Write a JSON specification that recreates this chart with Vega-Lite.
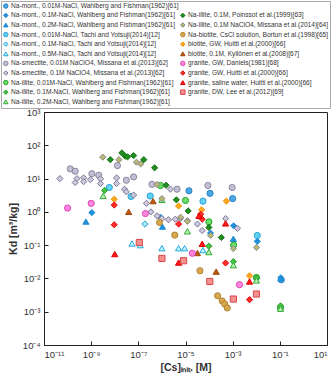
{
  "$schema": "https://vega.github.io/schema/vega-lite/v6.json",
  "autosize": "none",
  "width": 283,
  "height": 233,
  "padding": {"left": 44, "top": 112, "right": 7, "bottom": 39},
  "background": "white",
  "data": {
    "values": [
      {"series": "Na-mont., 0.01M-NaCl, Wahlberg and Fishman(1962)[61]", "cs": 1.4e-5, "kd": 4.3},
      {"series": "Na-mont., 0.01M-NaCl, Wahlberg and Fishman(1962)[61]", "cs": 1.1e-4, "kd": 3.6},
      {"series": "Na-mont., 0.01M-NaCl, Wahlberg and Fishman(1962)[61]", "cs": 1.0e-3, "kd": 2.5},
      {"series": "Na-mont., 0.01M-NaCl, Wahlberg and Fishman(1962)[61]", "cs": 0.115, "kd": 0.0091},

      {"series": "Na-mont., 0.1M-NaCl, Wahlberg and Fishman(1962)[61]", "cs": 1.07e-9, "kd": 0.95},
      {"series": "Na-mont., 0.1M-NaCl, Wahlberg and Fishman(1962)[61]", "cs": 8.7e-7, "kd": 0.69},
      {"series": "Na-mont., 0.1M-NaCl, Wahlberg and Fishman(1962)[61]", "cs": 1.15e-4, "kd": 0.23},
      {"series": "Na-mont., 0.1M-NaCl, Wahlberg and Fishman(1962)[61]", "cs": 1.1e-3, "kd": 0.38},
      {"series": "Na-mont., 0.1M-NaCl, Wahlberg and Fishman(1962)[61]", "cs": 0.011, "kd": 0.13},
      {"series": "Na-mont., 0.1M-NaCl, Wahlberg and Fishman(1962)[61]", "cs": 0.11, "kd": 0.0105},

      {"series": "Na-mont., 0.2M-NaCl, Wahlberg and Fishman(1962)[61]", "cs": 6.0e-10, "kd": 0.51},
      {"series": "Na-mont., 0.2M-NaCl, Wahlberg and Fishman(1962)[61]", "cs": 1.05e-6, "kd": 0.36},
      {"series": "Na-mont., 0.2M-NaCl, Wahlberg and Fishman(1962)[61]", "cs": 1.07e-3, "kd": 0.155},
      {"series": "Na-mont., 0.2M-NaCl, Wahlberg and Fishman(1962)[61]", "cs": 0.11, "kd": 0.010},

      {"series": "Na-mont., 0.01M-NaCl, Tachi and Yotsuji(2014)[12]", "cs": 5.9e-9, "kd": 5.4},
      {"series": "Na-mont., 0.01M-NaCl, Tachi and Yotsuji(2014)[12]", "cs": 4.9e-8, "kd": 2.9},
      {"series": "Na-mont., 0.01M-NaCl, Tachi and Yotsuji(2014)[12]", "cs": 3.2e-7, "kd": 3.0},
      {"series": "Na-mont., 0.01M-NaCl, Tachi and Yotsuji(2014)[12]", "cs": 5.5e-5, "kd": 2.1},
      {"series": "Na-mont., 0.01M-NaCl, Tachi and Yotsuji(2014)[12]", "cs": 0.011, "kd": 0.195},

      {"series": "Na-mont., 0.1M-NaCl, Tachi and Yotsuji(2014)[12]", "cs": 1.9e-7, "kd": 0.43},

      {"series": "Na-mont., 0.5M-NaCl, Tachi and Yotsuji(2014)[12]", "cs": 5.4e-8, "kd": 0.112},
      {"series": "Na-mont., 0.5M-NaCl, Tachi and Yotsuji(2014)[12]", "cs": 1.2e-7, "kd": 0.10},
      {"series": "Na-mont., 0.5M-NaCl, Tachi and Yotsuji(2014)[12]", "cs": 1.0e-6, "kd": 0.081},
      {"series": "Na-mont., 0.5M-NaCl, Tachi and Yotsuji(2014)[12]", "cs": 5.1e-6, "kd": 0.081},
      {"series": "Na-mont., 0.5M-NaCl, Tachi and Yotsuji(2014)[12]", "cs": 9.1e-6, "kd": 0.081},
      {"series": "Na-mont., 0.5M-NaCl, Tachi and Yotsuji(2014)[12]", "cs": 5.5e-5, "kd": 0.071},

      {"series": "Na-smectite, 0.01M NaClO4, Missana et al.(2013)[62]", "cs": 1.3e-10, "kd": 19.5},
      {"series": "Na-smectite, 0.01M NaClO4, Missana et al.(2013)[62]", "cs": 2.1e-10, "kd": 16.6},
      {"series": "Na-smectite, 0.01M NaClO4, Missana et al.(2013)[62]", "cs": 1.07e-9, "kd": 14},
      {"series": "Na-smectite, 0.01M NaClO4, Missana et al.(2013)[62]", "cs": 2.1e-9, "kd": 12.6},
      {"series": "Na-smectite, 0.01M NaClO4, Missana et al.(2013)[62]", "cs": 1.3e-8, "kd": 24.5},
      {"series": "Na-smectite, 0.01M NaClO4, Missana et al.(2013)[62]", "cs": 3.1e-8, "kd": 8.9},
      {"series": "Na-smectite, 0.01M NaClO4, Missana et al.(2013)[62]", "cs": 6.3e-8, "kd": 11.2},
      {"series": "Na-smectite, 0.01M NaClO4, Missana et al.(2013)[62]", "cs": 3.8e-7, "kd": 6.7},
      {"series": "Na-smectite, 0.01M NaClO4, Missana et al.(2013)[62]", "cs": 4.4e-6, "kd": 4.8},
      {"series": "Na-smectite, 0.01M NaClO4, Missana et al.(2013)[62]", "cs": 8.9e-5, "kd": 6.2},
      {"series": "Na-smectite, 0.01M NaClO4, Missana et al.(2013)[62]", "cs": 9.5e-4, "kd": 5.4},

      {"series": "Na-smectite, 0.1M NaClO4, Missana et al.(2013)[62]", "cs": 4.7e-11, "kd": 10},
      {"series": "Na-smectite, 0.1M NaClO4, Missana et al.(2013)[62]", "cs": 2.1e-10, "kd": 7.6},
      {"series": "Na-smectite, 0.1M NaClO4, Missana et al.(2013)[62]", "cs": 2.5e-10, "kd": 10},
      {"series": "Na-smectite, 0.1M NaClO4, Missana et al.(2013)[62]", "cs": 4.8e-10, "kd": 10.5},
      {"series": "Na-smectite, 0.1M NaClO4, Missana et al.(2013)[62]", "cs": 4.8e-10, "kd": 8.1},
      {"series": "Na-smectite, 0.1M NaClO4, Missana et al.(2013)[62]", "cs": 9.3e-10, "kd": 9.3},
      {"series": "Na-smectite, 0.1M NaClO4, Missana et al.(2013)[62]", "cs": 2.5e-9, "kd": 9.8},
      {"series": "Na-smectite, 0.1M NaClO4, Missana et al.(2013)[62]", "cs": 2.5e-9, "kd": 7.1},
      {"series": "Na-smectite, 0.1M NaClO4, Missana et al.(2013)[62]", "cs": 1.2e-8, "kd": 10.5},
      {"series": "Na-smectite, 0.1M NaClO4, Missana et al.(2013)[62]", "cs": 1.2e-8, "kd": 7.1},
      {"series": "Na-smectite, 0.1M NaClO4, Missana et al.(2013)[62]", "cs": 2.6e-8, "kd": 4.8},
      {"series": "Na-smectite, 0.1M NaClO4, Missana et al.(2013)[62]", "cs": 3.1e-8, "kd": 4.0},
      {"series": "Na-smectite, 0.1M NaClO4, Missana et al.(2013)[62]", "cs": 6.3e-8, "kd": 3.2},
      {"series": "Na-smectite, 0.1M NaClO4, Missana et al.(2013)[62]", "cs": 2.2e-7, "kd": 1.8},
      {"series": "Na-smectite, 0.1M NaClO4, Missana et al.(2013)[62]", "cs": 3.4e-7, "kd": 1.0},
      {"series": "Na-smectite, 0.1M NaClO4, Missana et al.(2013)[62]", "cs": 6.2e-7, "kd": 0.76},
      {"series": "Na-smectite, 0.1M NaClO4, Missana et al.(2013)[62]", "cs": 1.0e-6, "kd": 0.63},
      {"series": "Na-smectite, 0.1M NaClO4, Missana et al.(2013)[62]", "cs": 1.9e-6, "kd": 0.58},
      {"series": "Na-smectite, 0.1M NaClO4, Missana et al.(2013)[62]", "cs": 2.3e-6, "kd": 4.8},
      {"series": "Na-smectite, 0.1M NaClO4, Missana et al.(2013)[62]", "cs": 3.7e-6, "kd": 0.60},
      {"series": "Na-smectite, 0.1M NaClO4, Missana et al.(2013)[62]", "cs": 6.0e-6, "kd": 0.63},
      {"series": "Na-smectite, 0.1M NaClO4, Missana et al.(2013)[62]", "cs": 1.2e-5, "kd": 0.54},
      {"series": "Na-smectite, 0.1M NaClO4, Missana et al.(2013)[62]", "cs": 3.2e-5, "kd": 0.43},
      {"series": "Na-smectite, 0.1M NaClO4, Missana et al.(2013)[62]", "cs": 5.1e-5, "kd": 0.275},
      {"series": "Na-smectite, 0.1M NaClO4, Missana et al.(2013)[62]", "cs": 5.0e-4, "kd": 0.63},
      {"series": "Na-smectite, 0.1M NaClO4, Missana et al.(2013)[62]", "cs": 1.6e-3, "kd": 0.32},

      {"series": "Na-illite, 0.01M-NaCl, Wahlberg and Fishman(1962)[61]", "cs": 8.7e-7, "kd": 6.2},
      {"series": "Na-illite, 0.01M-NaCl, Wahlberg and Fishman(1962)[61]", "cs": 1.0e-5, "kd": 2.2},
      {"series": "Na-illite, 0.01M-NaCl, Wahlberg and Fishman(1962)[61]", "cs": 9.8e-5, "kd": 0.50},
      {"series": "Na-illite, 0.01M-NaCl, Wahlberg and Fishman(1962)[61]", "cs": 1.1e-3, "kd": 0.10},
      {"series": "Na-illite, 0.01M-NaCl, Wahlberg and Fishman(1962)[61]", "cs": 0.0102, "kd": 0.0107},
      {"series": "Na-illite, 0.01M-NaCl, Wahlberg and Fishman(1962)[61]", "cs": 0.107, "kd": 0.0013},

      {"series": "Na-illite, 0.1M-NaCl, Wahlberg and Fishman(1962)[61]", "cs": 3.7e-9, "kd": 4.4},
      {"series": "Na-illite, 0.1M-NaCl, Wahlberg and Fishman(1962)[61]", "cs": 9.8e-5, "kd": 0.093},
      {"series": "Na-illite, 0.1M-NaCl, Wahlberg and Fishman(1962)[61]", "cs": 1.07e-3, "kd": 0.032},
      {"series": "Na-illite, 0.1M-NaCl, Wahlberg and Fishman(1962)[61]", "cs": 0.0102, "kd": 0.0102},
      {"series": "Na-illite, 0.1M-NaCl, Wahlberg and Fishman(1962)[61]", "cs": 0.107, "kd": 0.0015},

      {"series": "Na-illite, 0.2M-NaCl, Wahlberg and Fishman(1962)[61]", "cs": 3.2e-9, "kd": 3.0},
      {"series": "Na-illite, 0.2M-NaCl, Wahlberg and Fishman(1962)[61]", "cs": 1.0e-6, "kd": 2.3},
      {"series": "Na-illite, 0.2M-NaCl, Wahlberg and Fishman(1962)[61]", "cs": 1.2e-5, "kd": 0.26},
      {"series": "Na-illite, 0.2M-NaCl, Wahlberg and Fishman(1962)[61]", "cs": 9.8e-5, "kd": 0.062},
      {"series": "Na-illite, 0.2M-NaCl, Wahlberg and Fishman(1962)[61]", "cs": 1.07e-3, "kd": 0.025},
      {"series": "Na-illite, 0.2M-NaCl, Wahlberg and Fishman(1962)[61]", "cs": 0.0102, "kd": 0.0087},
      {"series": "Na-illite, 0.2M-NaCl, Wahlberg and Fishman(1962)[61]", "cs": 0.107, "kd": 0.00123},

      {"series": "Na-illite, 0.1M, Poinssot et al.(1999)[63]", "cs": 6.5e-9, "kd": 37},
      {"series": "Na-illite, 0.1M, Poinssot et al.(1999)[63]", "cs": 2.0e-8, "kd": 59},
      {"series": "Na-illite, 0.1M, Poinssot et al.(1999)[63]", "cs": 2.8e-8, "kd": 47},
      {"series": "Na-illite, 0.1M, Poinssot et al.(1999)[63]", "cs": 3.5e-8, "kd": 45},
      {"series": "Na-illite, 0.1M, Poinssot et al.(1999)[63]", "cs": 6.3e-8, "kd": 49},
      {"series": "Na-illite, 0.1M, Poinssot et al.(1999)[63]", "cs": 1.7e-7, "kd": 37},
      {"series": "Na-illite, 0.1M, Poinssot et al.(1999)[63]", "cs": 4.9e-7, "kd": 21},
      {"series": "Na-illite, 0.1M, Poinssot et al.(1999)[63]", "cs": 1.5e-6, "kd": 6.3},
      {"series": "Na-illite, 0.1M, Poinssot et al.(1999)[63]", "cs": 4.1e-6, "kd": 2.3},
      {"series": "Na-illite, 0.1M, Poinssot et al.(1999)[63]", "cs": 1.3e-5, "kd": 1.07},
      {"series": "Na-illite, 0.1M, Poinssot et al.(1999)[63]", "cs": 9.8e-5, "kd": 0.34},
      {"series": "Na-illite, 0.1M, Poinssot et al.(1999)[63]", "cs": 3.3e-4, "kd": 0.17},

      {"series": "Na-illite, 0.1M NaClO4, Missana et al.(2014)[64]", "cs": 3.1e-9, "kd": 44},
      {"series": "Na-illite, 0.1M NaClO4, Missana et al.(2014)[64]", "cs": 1.5e-8, "kd": 37},
      {"series": "Na-illite, 0.1M NaClO4, Missana et al.(2014)[64]", "cs": 8.3e-8, "kd": 31},
      {"series": "Na-illite, 0.1M NaClO4, Missana et al.(2014)[64]", "cs": 1.26e-7, "kd": 27.5},
      {"series": "Na-illite, 0.1M NaClO4, Missana et al.(2014)[64]", "cs": 6.2e-7, "kd": 6.6},
      {"series": "Na-illite, 0.1M NaClO4, Missana et al.(2014)[64]", "cs": 1.0e-6, "kd": 2.5},
      {"series": "Na-illite, 0.1M NaClO4, Missana et al.(2014)[64]", "cs": 6.2e-6, "kd": 0.69},
      {"series": "Na-illite, 0.1M NaClO4, Missana et al.(2014)[64]", "cs": 1.2e-5, "kd": 0.52},
      {"series": "Na-illite, 0.1M NaClO4, Missana et al.(2014)[64]", "cs": 1.15e-4, "kd": 0.195},
      {"series": "Na-illite, 0.1M NaClO4, Missana et al.(2014)[64]", "cs": 1.07e-3, "kd": 0.079},
      {"series": "Na-illite, 0.1M NaClO4, Missana et al.(2014)[64]", "cs": 0.0102, "kd": 0.085},

      {"series": "Na-biotite, CsCl solution, Bortun et al.(1998)[65]", "cs": 7.9e-7, "kd": 0.48},
      {"series": "Na-biotite, CsCl solution, Bortun et al.(1998)[65]", "cs": 3.5e-6, "kd": 0.20},
      {"series": "Na-biotite, CsCl solution, Bortun et al.(1998)[65]", "cs": 4.1e-5, "kd": 0.017},
      {"series": "Na-biotite, CsCl solution, Bortun et al.(1998)[65]", "cs": 2.3e-4, "kd": 0.0030},
      {"series": "Na-biotite, CsCl solution, Bortun et al.(1998)[65]", "cs": 3.6e-4, "kd": 0.0021},
      {"series": "Na-biotite, CsCl solution, Bortun et al.(1998)[65]", "cs": 4.6e-4, "kd": 0.0017},
      {"series": "Na-biotite, CsCl solution, Bortun et al.(1998)[65]", "cs": 5.9e-4, "kd": 0.0013},

      {"series": "biotite, GW, Huitti et al.(2000)[66]", "cs": 9.5e-9, "kd": 2.4},
      {"series": "biotite, GW, Huitti et al.(2000)[66]", "cs": 5.1e-6, "kd": 1.5},
      {"series": "biotite, GW, Huitti et al.(2000)[66]", "cs": 4.8e-5, "kd": 1.15},
      {"series": "biotite, GW, Huitti et al.(2000)[66]", "cs": 5.4e-4, "kd": 2.1},
      {"series": "biotite, GW, Huitti et al.(2000)[66]", "cs": 5.2e-3, "kd": 0.012},

      {"series": "biotite, 0.1M, Kyllönen et al.(2008)[67]", "cs": 3.9e-8, "kd": 1.0},
      {"series": "biotite, 0.1M, Kyllönen et al.(2008)[67]", "cs": 4.2e-7, "kd": 2.1},
      {"series": "biotite, 0.1M, Kyllönen et al.(2008)[67]", "cs": 3.2e-5, "kd": 0.058},
      {"series": "biotite, 0.1M, Kyllönen et al.(2008)[67]", "cs": 2.0e-4, "kd": 0.016},

      {"series": "granite, GW, Daniels(1981)[68]", "cs": 1.0e-10, "kd": 1.3},
      {"series": "granite, GW, Daniels(1981)[68]", "cs": 1.0e-9, "kd": 1.8},
      {"series": "granite, GW, Daniels(1981)[68]", "cs": 2.0e-7, "kd": 0.89},
      {"series": "granite, GW, Daniels(1981)[68]", "cs": 1.95e-5, "kd": 0.057},
      {"series": "granite, GW, Daniels(1981)[68]", "cs": 1.95e-3, "kd": 0.0065},

      {"series": "granite, GW, Huitti et al.(2000)[66]", "cs": 9.5e-9, "kd": 1.6},
      {"series": "granite, GW, Huitti et al.(2000)[66]", "cs": 9.5e-9, "kd": 0.41},
      {"series": "granite, GW, Huitti et al.(2000)[66]", "cs": 5.1e-6, "kd": 0.43},
      {"series": "granite, GW, Huitti et al.(2000)[66]", "cs": 4.4e-5, "kd": 0.85},
      {"series": "granite, GW, Huitti et al.(2000)[66]", "cs": 5.1e-5, "kd": 0.60},
      {"series": "granite, GW, Huitti et al.(2000)[66]", "cs": 5.0e-4, "kd": 0.029},
      {"series": "granite, GW, Huitti et al.(2000)[66]", "cs": 5.2e-3, "kd": 0.0023},

      {"series": "granite, saline water, Huitti et al.(2000)[66]", "cs": 1.0e-8, "kd": 0.054},
      {"series": "granite, saline water, Huitti et al.(2000)[66]", "cs": 5.1e-6, "kd": 0.030},
      {"series": "granite, saline water, Huitti et al.(2000)[66]", "cs": 3.7e-5, "kd": 0.76},
      {"series": "granite, saline water, Huitti et al.(2000)[66]", "cs": 5.1e-5, "kd": 0.11},
      {"series": "granite, saline water, Huitti et al.(2000)[66]", "cs": 5.0e-4, "kd": 0.45},
      {"series": "granite, saline water, Huitti et al.(2000)[66]", "cs": 5.2e-3, "kd": 0.0081},

      {"series": "granite, DW, Lee et al.(2012)[69]", "cs": 1.1e-7, "kd": 0.12},
      {"series": "granite, DW, Lee et al.(2012)[69]", "cs": 1.0e-6, "kd": 0.040},
      {"series": "granite, DW, Lee et al.(2012)[69]", "cs": 8.3e-6, "kd": 0.034},
      {"series": "granite, DW, Lee et al.(2012)[69]", "cs": 1.07e-4, "kd": 0.0081},
      {"series": "granite, DW, Lee et al.(2012)[69]", "cs": 1.07e-3, "kd": 0.0024},
      {"series": "granite, DW, Lee et al.(2012)[69]", "cs": 0.0102, "kd": 0.0034}
    ]
  },
  "mark": {"type": "point", "filled": true, "opacity": 1, "strokeWidth": 1, "size": 38},
  "encoding": {
    "x": {
      "field": "cs", "type": "quantitative",
      "scale": {"type": "log", "domain": [1e-11, 10], "nice": false},
      "axis": {
        "title": "[Cs]ᵢₙᵢₜ. [M]",
        "values": [1e-11, 1e-9, 1e-7, 1e-5, 1e-3, 1e-1, 10],
        "labelExpr": "'10' + ['⁻¹¹','⁻¹⁰','⁻⁹','⁻⁸','⁻⁷','⁻⁶','⁻⁵','⁻⁴','⁻³','⁻²','⁻¹','⁰','¹','²','³'][round(log(datum.value)/LN10) + 11]",
        "labelPadding": 8,
        "titlePadding": 4
      }
    },
    "y": {
      "field": "kd", "type": "quantitative",
      "scale": {"type": "log", "domain": [1e-4, 1000], "nice": false},
      "axis": {
        "title": "Kd [m³/kg]",
        "values": [1e-4, 1e-3, 1e-2, 1e-1, 1, 10, 100, 1000],
        "labelExpr": "'10' + ['⁻¹¹','⁻¹⁰','⁻⁹','⁻⁸','⁻⁷','⁻⁶','⁻⁵','⁻⁴','⁻³','⁻²','⁻¹','⁰','¹','²','³'][round(log(datum.value)/LN10) + 11]",
        "labelPadding": 8,
        "titlePadding": 4
      }
    },
    "color": {
      "field": "series", "type": "nominal",
      "scale": {
        "domain": [
          "Na-mont., 0.01M-NaCl, Wahlberg and Fishman(1962)[61]",
          "Na-mont., 0.1M-NaCl, Wahlberg and Fishman(1962)[61]",
          "Na-mont., 0.2M-NaCl, Wahlberg and Fishman(1962)[61]",
          "Na-mont., 0.01M-NaCl, Tachi and Yotsuji(2014)[12]",
          "Na-mont., 0.1M-NaCl, Tachi and Yotsuji(2014)[12]",
          "Na-mont., 0.5M-NaCl, Tachi and Yotsuji(2014)[12]",
          "Na-smectite, 0.01M NaClO4, Missana et al.(2013)[62]",
          "Na-smectite, 0.1M NaClO4, Missana et al.(2013)[62]",
          "Na-illite, 0.01M-NaCl, Wahlberg and Fishman(1962)[61]",
          "Na-illite, 0.1M-NaCl, Wahlberg and Fishman(1962)[61]",
          "Na-illite, 0.2M-NaCl, Wahlberg and Fishman(1962)[61]",
          " ",
          "Na-illite, 0.1M, Poinssot et al.(1999)[63]",
          "Na-illite, 0.1M NaClO4, Missana et al.(2014)[64]",
          "Na-biotite, CsCl solution, Bortun et al.(1998)[65]",
          "biotite, GW, Huitti et al.(2000)[66]",
          "biotite, 0.1M, Kyllönen et al.(2008)[67]",
          "granite, GW, Daniels(1981)[68]",
          "granite, GW, Huitti et al.(2000)[66]",
          "granite, saline water, Huitti et al.(2000)[66]",
          "granite, DW, Lee et al.(2012)[69]"
        ],
        "range": [
          "#4aa8e6", "#1f8fd8", "#1f8fd8", "#5fd4f2", "#a8ecfa", "#c8f4fd",
          "#c4c0d4", "#cdc8dc", "#66e066", "#44c544", "#b6f0b0",
          "transparent",
          "#1f8f1f", "#b8b874", "#d8a850", "#ffa820", "#b85a10",
          "#ff88dd", "#ff2a2a", "#ff1a1a", "#f49090"
        ]
      },
      "legend": {
        "title": null,
        "orient": "none",
        "legendX": -43,
        "legendY": -111,
        "columns": 2,
        "columnPadding": -1,
        "rowPadding": 0.6,
        "padding": 1.5,
        "labelFont": "Liberation Sans",
        "labelFontSize": 6.6,
        "labelColor": "#333",
        "labelLimit": 400,
        "labelOffset": 2,
        "symbolSize": 20,
        "symbolStrokeWidth": 1,
        "strokeColor": "#aaaaaa",
        "fillColor": "white"
      }
    },
    "stroke": {
      "field": "series", "type": "nominal",
      "scale": {
        "domain": [
          "Na-mont., 0.01M-NaCl, Wahlberg and Fishman(1962)[61]",
          "Na-mont., 0.1M-NaCl, Wahlberg and Fishman(1962)[61]",
          "Na-mont., 0.2M-NaCl, Wahlberg and Fishman(1962)[61]",
          "Na-mont., 0.01M-NaCl, Tachi and Yotsuji(2014)[12]",
          "Na-mont., 0.1M-NaCl, Tachi and Yotsuji(2014)[12]",
          "Na-mont., 0.5M-NaCl, Tachi and Yotsuji(2014)[12]",
          "Na-smectite, 0.01M NaClO4, Missana et al.(2013)[62]",
          "Na-smectite, 0.1M NaClO4, Missana et al.(2013)[62]",
          "Na-illite, 0.01M-NaCl, Wahlberg and Fishman(1962)[61]",
          "Na-illite, 0.1M-NaCl, Wahlberg and Fishman(1962)[61]",
          "Na-illite, 0.2M-NaCl, Wahlberg and Fishman(1962)[61]",
          " ",
          "Na-illite, 0.1M, Poinssot et al.(1999)[63]",
          "Na-illite, 0.1M NaClO4, Missana et al.(2014)[64]",
          "Na-biotite, CsCl solution, Bortun et al.(1998)[65]",
          "biotite, GW, Huitti et al.(2000)[66]",
          "biotite, 0.1M, Kyllönen et al.(2008)[67]",
          "granite, GW, Daniels(1981)[68]",
          "granite, GW, Huitti et al.(2000)[66]",
          "granite, saline water, Huitti et al.(2000)[66]",
          "granite, DW, Lee et al.(2012)[69]"
        ],
        "range": [
          "#2a7fc0", "#1f8fd8", "#1f8fd8", "#2e9fd6", "#22a0d8", "#22a8dc",
          "#8a86a0", "#7c7898", "#2aa02a", "#2a9a2a", "#33aa33",
          "transparent",
          "#177017", "#8a8a8a", "#b0842f", "#f09000", "#a04808",
          "#e040b8", "#e01010", "#e00000", "#d84848"
        ]
      }
    },
    "shape": {
      "field": "series", "type": "nominal",
      "scale": {
        "domain": [
          "Na-mont., 0.01M-NaCl, Wahlberg and Fishman(1962)[61]",
          "Na-mont., 0.1M-NaCl, Wahlberg and Fishman(1962)[61]",
          "Na-mont., 0.2M-NaCl, Wahlberg and Fishman(1962)[61]",
          "Na-mont., 0.01M-NaCl, Tachi and Yotsuji(2014)[12]",
          "Na-mont., 0.1M-NaCl, Tachi and Yotsuji(2014)[12]",
          "Na-mont., 0.5M-NaCl, Tachi and Yotsuji(2014)[12]",
          "Na-smectite, 0.01M NaClO4, Missana et al.(2013)[62]",
          "Na-smectite, 0.1M NaClO4, Missana et al.(2013)[62]",
          "Na-illite, 0.01M-NaCl, Wahlberg and Fishman(1962)[61]",
          "Na-illite, 0.1M-NaCl, Wahlberg and Fishman(1962)[61]",
          "Na-illite, 0.2M-NaCl, Wahlberg and Fishman(1962)[61]",
          " ",
          "Na-illite, 0.1M, Poinssot et al.(1999)[63]",
          "Na-illite, 0.1M NaClO4, Missana et al.(2014)[64]",
          "Na-biotite, CsCl solution, Bortun et al.(1998)[65]",
          "biotite, GW, Huitti et al.(2000)[66]",
          "biotite, 0.1M, Kyllönen et al.(2008)[67]",
          "granite, GW, Daniels(1981)[68]",
          "granite, GW, Huitti et al.(2000)[66]",
          "granite, saline water, Huitti et al.(2000)[66]",
          "granite, DW, Lee et al.(2012)[69]"
        ],
        "range": [
          "circle", "diamond", "triangle-up", "circle", "diamond", "triangle-up",
          "circle", "diamond", "circle", "diamond", "triangle-up",
          "circle",
          "diamond", "diamond", "circle", "diamond", "triangle-up",
          "circle", "diamond", "triangle-up", "square"
        ]
      }
    }
  },
  "config": {
    "view": {"stroke": "#222", "strokeWidth": 1},
    "axis": {
      "grid": false,
      "domainColor": "#222",
      "tickColor": "#222",
      "tickSize": -4,
      "labelColor": "#333",
      "labelFont": "Liberation Sans",
      "labelFontSize": 9.5,
      "titleFont": "Liberation Sans",
      "titleFontSize": 10.5,
      "titleFontWeight": "bold",
      "titleColor": "#333"
    }
  }
}
